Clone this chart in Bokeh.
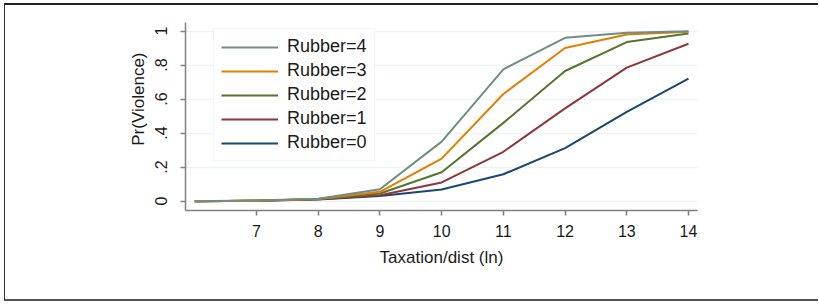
from bokeh.plotting import figure
from bokeh.models import Range1d, FixedTicker, Legend, LegendItem, Title
from bokeh.embed import file_html
from bokeh.resources import INLINE

# Data
taxation = [6, 7, 8, 9, 10, 11, 12, 13, 14]
rubber0 = [0.000, 0.002, 0.010, 0.030, 0.068, 0.158, 0.312, 0.525, 0.720]
rubber1 = [0.000, 0.003, 0.011, 0.035, 0.110, 0.290, 0.545, 0.785, 0.925]
rubber2 = [0.000, 0.003, 0.012, 0.045, 0.170, 0.460, 0.765, 0.935, 0.985]
rubber3 = [0.000, 0.003, 0.013, 0.055, 0.250, 0.630, 0.900, 0.980, 0.995]
rubber4 = [0.000, 0.004, 0.014, 0.070, 0.350, 0.775, 0.960, 0.990, 0.998]
series_labels = ["Rubber=0", "Rubber=1", "Rubber=2", "Rubber=3", "Rubber=4"]
x_ticks = [7, 8, 9, 10, 11, 12, 13, 14]
y_ticks = [0, 0.2, 0.4, 0.6, 0.8, 1.0]
y_tick_labels = ["0", ".2", ".4", ".6", ".8", "1"]
x_title = "Taxation/dist (ln)"
y_title = "Pr(Violence)"

colors = ["#1a476f", "#90353b", "#55752f", "#e37e00", "#6e8e84"]
FONT = "Liberation Sans"
TXT = "#1a1a1a"

W, H = 814, 298
FRAME_W, FRAME_H = 512, 188
p = figure(width=W, height=H, output_backend="svg", toolbar_location=None,
           x_range=Range1d(5.849, 14.146), y_range=Range1d(-0.055, 1.05),
           min_border_left=180, min_border_right=W - 180 - FRAME_W,
           min_border_top=17, min_border_bottom=H - 17 - FRAME_H,
           background_fill_color="white", border_fill_color="white",
           outline_line_color=None,
           styles={"position": "absolute", "left": "4px", "top": "3px",
                   "border-top": "2px solid #222", "border-left": "1px solid #333",
                   "border-bottom": "2px solid #555"})

p.xgrid.visible = False
p.ygrid.grid_line_color = "#eef3f3"
p.ygrid.grid_line_width = 1.5

p.xaxis.ticker = FixedTicker(ticks=x_ticks)
p.yaxis.ticker = FixedTicker(ticks=y_ticks)
p.yaxis.major_label_overrides = {t: l for t, l in zip(y_ticks, y_tick_labels)}
p.yaxis.major_label_orientation = "vertical"

for ax in (p.xaxis, p.yaxis):
    ax.axis_line_color = "#808080"
    ax.axis_line_width = 1.5
    ax.major_tick_line_color = "#808080"
    ax.major_tick_line_width = 1.5
    ax.major_tick_out = 5
    ax.major_tick_in = 0
    ax.minor_tick_line_color = None
    ax.major_label_text_font = FONT
    ax.major_label_text_font_size = "16px"
    ax.major_label_text_color = TXT
    ax.axis_label_text_font = FONT
    ax.axis_label_text_font_size = "17px"
    ax.axis_label_text_font_style = "normal"
    ax.axis_label_text_color = TXT

p.xaxis.axis_label = x_title
p.xaxis.major_label_standoff = 9
p.xaxis.axis_label_standoff = 8
p.yaxis.major_label_standoff = 13

# y-axis title as a side title, so it can sit above the axis centre like the reference
p.add_layout(Title(text=y_title, align="right", offset=30, standoff=10,
                   text_font=FONT, text_font_size="17px", text_font_style="normal",
                   text_color=TXT), "left")

all_series = [rubber0, rubber1, rubber2, rubber3, rubber4]
renderers = []
for ys, c in zip(all_series, colors):
    r = p.line(taxation, ys, line_color=c, line_width=2)
    renderers.append(r)

items = [LegendItem(label=series_labels[i], renderers=[renderers[i]]) for i in range(4, -1, -1)]
legend = Legend(items=items, location=(28, 49),
                label_text_font=FONT, label_text_font_size="18px", label_text_color=TXT,
                glyph_width=57, glyph_height=20, label_height=20, label_standoff=9,
                spacing=3, padding=7, margin=0,
                border_line_color="#e8eded", border_line_width=1,
                background_fill_color="white", background_fill_alpha=1)
p.add_layout(legend, "center")

open("out.html", "w").write(file_html(p, INLINE))
